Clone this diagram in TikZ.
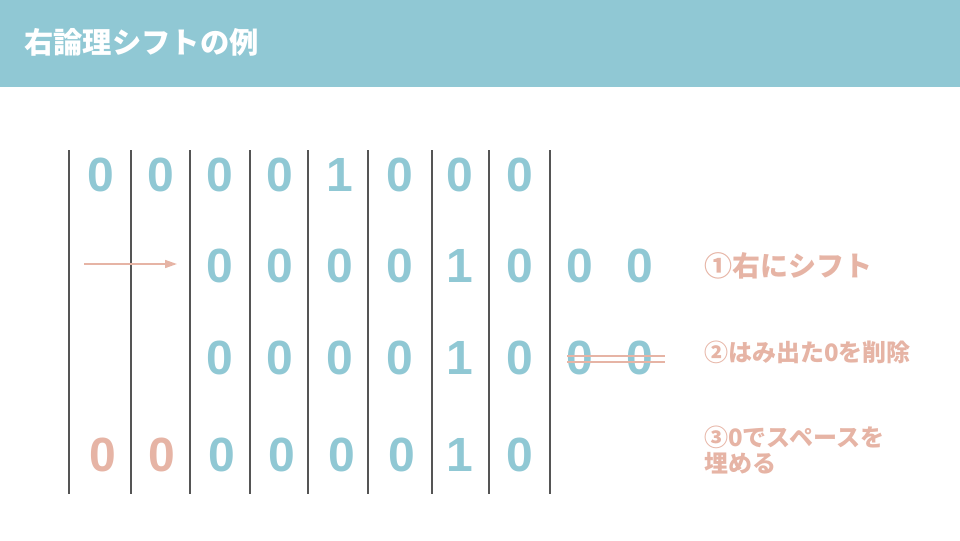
\documentclass[tikz,border=0pt]{standalone}
\usepackage{fontspec}
\setmainfont{Liberation Sans}
\newfontfamily\jpfont{Noto Sans CJK JP}
\usetikzlibrary{arrows.meta}
\definecolor{teal}{RGB}{144,200,212}
\definecolor{salmon}{RGB}{230,180,165}
\definecolor{gridgray}{RGB}{85,85,85}
\tikzset{
  digit/.style={font=\fontsize{36}{36}\selectfont\bfseries, text=teal, inner sep=0pt},
  sdigit/.style={digit, text=salmon},
  label/.style={font=\jpfont\bfseries\fontsize{18}{20}\selectfont, text=salmon, anchor=west, inner sep=0pt, align=left},
  gridline/.style={draw=gridgray, line width=0.8pt},
  strike/.style={draw=salmon, line width=1.2pt},
}
\begin{document}
\begin{tikzpicture}[x=0.75pt,y=-0.75pt]
\useasboundingbox (0,0) rectangle (960,540);
\fill[teal] (0,0) rectangle (960,87);
\node[font=\jpfont\bfseries\fontsize{22}{24}\selectfont, text=white, anchor=west, inner sep=0pt] (title) at (24,42) {右論理シフトの例};
% grid lines
\foreach \x in {69,131,190,250,308,368,432,489,550}
  \draw[gridline] (\x,150) -- (\x,494);
% row 1
\foreach \x/\d [count=\i] in {101/0,161/0,220/0,280/0,340/1,400/0,460/0,520/0}
  \node[digit] (ra\i) at (\x,175) {\d};
% row 2
\foreach \x/\d [count=\i] in {220/0,280/0,340/0,400/0,460/1,520/0,580/0,640/0}
  \node[digit] (rb\i) at (\x,266) {\d};
% row 3
\foreach \x/\d [count=\i] in {220/0,280/0,340/0,400/0,460/1,520/0,580/0,640/0}
  \node[digit] (rc\i) at (\x,358) {\d};
% row 4
\node[sdigit] (rd1) at (103,455) {0};
\node[sdigit] (rd2) at (162,455) {0};
\foreach \x/\d [count=\i from 3] in {222/0,282/0,342/0,402/0,460/1,520/0}
  \node[digit] (rd\i) at (\x,455) {\d};
% arrow
\coordinate (astart) at (84,264);
\coordinate (aend) at (177,264);
\draw[draw=salmon, line width=1.2pt, -{Triangle[length=9pt,width=6pt]}] (astart) -- (aend);
% strike lines
\coordinate (s1a) at (567,356); \coordinate (s1b) at (665,356);
\coordinate (s2a) at (567,362); \coordinate (s2b) at (665,362);
\draw[strike] (s1a) -- (s1b);
\draw[strike] (s2a) -- (s2b);
% labels
\node[label, font=\jpfont\bfseries\fontsize{21}{24}\selectfont] (l1) at (704,266) {①右にシフト};
\node[label] (l2) at (704,352) {②はみ出た0を削除};
\node[label, font=\jpfont\bfseries\fontsize{18}{19}\selectfont] (l3) at (704,450) {③0でスペースを\\埋める};
\end{tikzpicture}
\end{document}
